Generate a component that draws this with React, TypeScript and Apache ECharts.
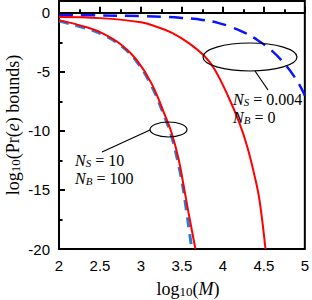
import React, { useEffect, useRef } from "react";
import * as echarts from "echarts";

// log10(M) sample positions and log10(Pr(e)) bound values
const upperDashX = [2, 2.5, 3, 3.3, 3.5, 3.75, 3.94, 4.1, 4.27, 4.42, 4.58, 4.75, 4.9, 5];
const upperDashY = [-0.2, -0.22, -0.28, -0.34, -0.43, -0.6, -0.85, -1.2, -1.7, -2.3, -3.1, -4.3, -5.7, -7.0];

const upperRedX = [2, 2.5, 3, 3.2, 3.38, 3.58, 3.78, 3.9, 4.06, 4.2, 4.3, 4.4, 4.45, 4.52];
const upperRedY = [-0.35, -0.45, -0.8, -1.2, -1.7, -2.55, -3.7, -4.8, -7.0, -9.3, -11.4, -14.2, -16, -20];

const lowerDashX = [2, 2.35, 2.55, 2.76, 2.95, 3.13, 3.3, 3.38, 3.46, 3.52, 3.62];
const lowerDashY = [-0.7, -1.35, -1.9, -2.8, -4.15, -6.2, -9.0, -10.6, -12.9, -15.1, -20];

const lowerRedX = [2, 2.35, 2.55, 2.76, 2.95, 3.13, 3.3, 3.38, 3.46, 3.52, 3.58, 3.665];
const lowerRedY = [-0.62, -1.25, -1.8, -2.7, -4.0, -6.0, -8.8, -10.3, -12.4, -14.6, -16.9, -20];

const yMajorTicks = [-20, -15, -10, -5, 0];
const yMinorTicks = [-17.5, -12.5, -7.5, -2.5];

const zip = (xs: number[], ys: number[]) => xs.map((x, i) => [x, ys[i]]);

const SERIF = "'Liberation Serif', 'Times New Roman', serif";
const SANS = "'Liberation Sans', Arial, sans-serif";

export default function App() {
  const ref = useRef<HTMLDivElement>(null);
  useEffect(() => {
    if (!ref.current) return;
    const chart = echarts.init(ref.current, null, { renderer: "svg" });
    const mathRich = (size: number, color: string) => ({
      n: { fontFamily: SERIF, fontSize: size, color, lineHeight: size + 4, verticalAlign: "bottom" },
      i: { fontFamily: SERIF, fontSize: size, fontStyle: "italic", color, lineHeight: size + 4, verticalAlign: "bottom" },
      s: { fontFamily: SERIF, fontSize: Math.round(size * 0.7), color, lineHeight: size - 3, verticalAlign: "bottom" },
      si: { fontFamily: SERIF, fontSize: Math.round(size * 0.7), fontStyle: "italic", color, lineHeight: size - 3, verticalAlign: "bottom" },
    });
    const annColor = "#3a3a3a";
    const lineSeries = (xs: number[], ys: number[], lineStyle: any, z: number) => ({
      type: "line",
      data: zip(xs, ys),
      showSymbol: false,
      smooth: 0.4,
      lineStyle,
      z,
    });
    chart.setOption({
      animation: false,
      grid: { left: 59, right: 5, top: 1, bottom: 51, show: true, borderColor: "#000", borderWidth: 2, backgroundColor: "transparent" },
      xAxis: {
        type: "value",
        min: 2,
        max: 5,
        interval: 0.5,
        axisLine: { lineStyle: { color: "#000", width: 2 } },
        axisTick: { inside: true, length: 6, lineStyle: { color: "#000", width: 2 } },
        minorTick: { show: true, splitNumber: 2, length: 3.5, lineStyle: { color: "#000", width: 2 } },
        axisLabel: { color: "#000", fontFamily: SANS, fontSize: 15, margin: 9 },
        splitLine: { show: false },
        minorSplitLine: { show: false },
      },
      yAxis: [
        {
          type: "value",
          min: -20,
          max: 1,
          interval: 5,
          axisLine: { lineStyle: { color: "#000", width: 2 } },
          axisTick: { inside: true, length: 6, customValues: yMajorTicks, lineStyle: { color: "#000", width: 2 } },
          axisLabel: { color: "#000", fontFamily: SANS, fontSize: 15, margin: 9, customValues: yMajorTicks },
          splitLine: { show: false },
        },
        {
          type: "value",
          min: -20,
          max: 1,
          position: "left",
          axisLine: { show: false },
          axisTick: { show: true, inside: true, length: 3.5, customValues: yMinorTicks, lineStyle: { color: "#000", width: 2 } },
          axisLabel: { show: false },
          splitLine: { show: false },
        },
      ],
      series: [
        lineSeries(upperDashX, upperDashY, { color: "#0a14ff", width: 2.5, type: [14, 8] }, 2),
        lineSeries(upperRedX, upperRedY, { color: "#ff0000", width: 2 }, 3),
        lineSeries(lowerDashX, lowerDashY, { color: "#2a7ad8", width: 3, type: [10, 7] }, 2),
        lineSeries(lowerRedX, lowerRedY, { color: "#ff0000", width: 2 }, 3),
      ],
      graphic: [
        { type: "ellipse", shape: { cx: 250, cy: 57, rx: 47, ry: 14 }, style: { fill: "none", stroke: "#000", lineWidth: 1.2 }, z: 10 },
        { type: "line", shape: { x1: 255, y1: 71, x2: 268, y2: 90 }, style: { stroke: "#000", lineWidth: 1.2 }, z: 10 },
        { type: "ellipse", shape: { cx: 168.5, cy: 129.5, rx: 18.5, ry: 7.5 }, style: { fill: "none", stroke: "#000", lineWidth: 1.2 }, z: 10 },
        { type: "line", shape: { x1: 150, y1: 130, x2: 102, y2: 152 }, style: { stroke: "#000", lineWidth: 1.2 }, z: 10 },
        {
          type: "text", x: 233, y: 97, z: 10,
          style: { text: "{i|N}{si|S}{n| = 0.004}", rich: mathRich(16, annColor), verticalAlign: "middle" },
        },
        {
          type: "text", x: 233, y: 115, z: 10,
          style: { text: "{i|N}{si|B}{n| = 0}", rich: mathRich(16, annColor), verticalAlign: "middle" },
        },
        {
          type: "text", x: 75, y: 158, z: 10,
          style: { text: "{i|N}{si|S}{n| = 10}", rich: mathRich(16, annColor), verticalAlign: "middle" },
        },
        {
          type: "text", x: 75, y: 176, z: 10,
          style: { text: "{i|N}{si|B}{n| = 100}", rich: mathRich(16, annColor), verticalAlign: "middle" },
        },
        {
          type: "text", x: 188, y: 287, z: 10,
          style: { text: "{n|log}{s|10}{n|(}{i|M}{n|)}", rich: mathRich(18, "#000"), align: "center", verticalAlign: "middle" },
        },
        {
          type: "text", x: 11, y: 125, rotation: Math.PI / 2, z: 10,
          style: { text: "{n|log}{s|10}{n|(Pr(}{i|e}{n|) bounds)}", rich: mathRich(18, "#000"), align: "center", verticalAlign: "middle" },
        },
      ],
    });
    return () => chart.dispose();
  }, []);
  return <div ref={ref} style={{ width: 312, height: 300, position: "absolute", left: 0, top: 0 }} />;
}
